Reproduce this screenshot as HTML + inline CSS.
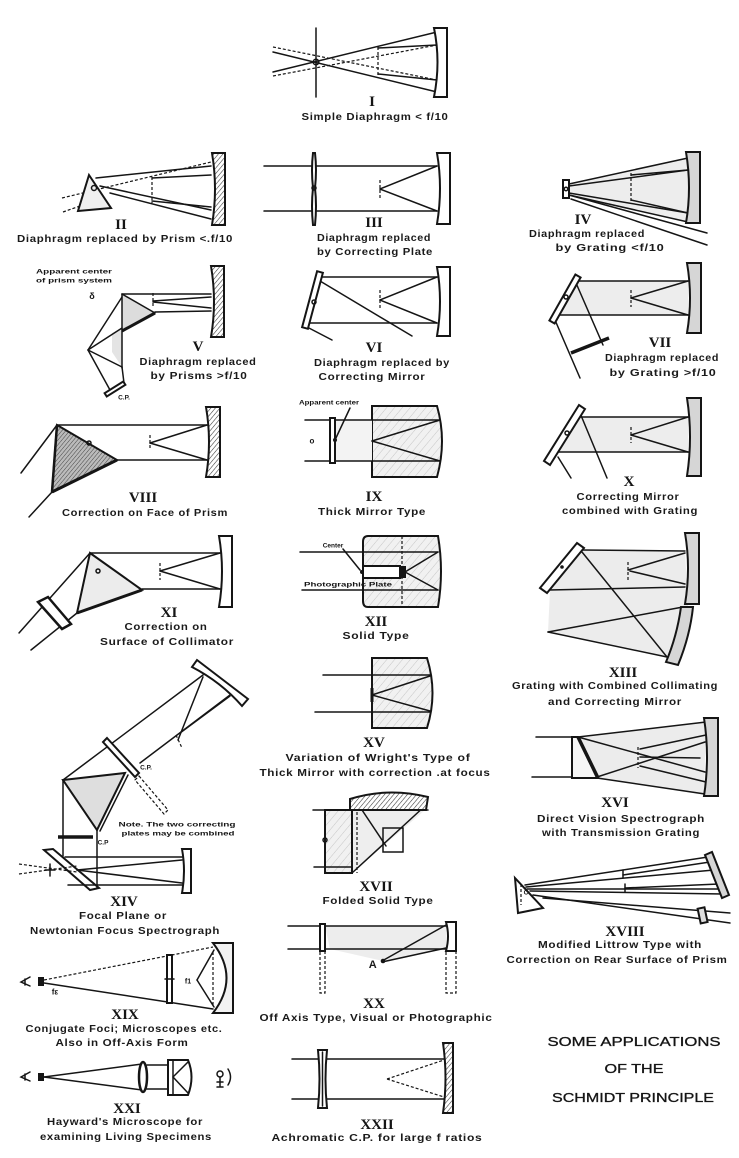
<!DOCTYPE html>
<html><head><meta charset="utf-8">
<style>
html,body{margin:0;padding:0;background:#fff;}
svg{display:block;}
.l{stroke:#151515;stroke-width:1.5;fill:none;stroke-linecap:round}
.th{stroke:#151515;stroke-width:2;}
.d{stroke:#151515;stroke-width:1.2;fill:none;stroke-dasharray:3 2}
.t{font-family:"Liberation Sans",sans-serif;font-size:10.5px;font-weight:bold;fill:#1a1a1a;letter-spacing:0.6px}
.s{font-family:"Liberation Sans",sans-serif;font-size:6.5px;font-weight:bold;fill:#151515}
.n{font-family:"Liberation Serif",serif;font-weight:bold;font-size:15px;fill:#151515}
.ti{font-family:"Liberation Sans",sans-serif;font-size:12.5px;fill:#151515;stroke:#151515;stroke-width:0.3}
</style></head><body>
<svg width="739" height="1158" viewBox="0 0 739 1158" xmlns="http://www.w3.org/2000/svg">
<defs>
<pattern id="h" width="3.5" height="3.5" patternUnits="userSpaceOnUse" patternTransform="rotate(40)"><rect width="3.5" height="3.5" fill="#fff"/><line x1="0" y1="0" x2="0" y2="3.5" stroke="#333" stroke-width="1.1"/></pattern>
<pattern id="hd" width="3" height="3" patternUnits="userSpaceOnUse" patternTransform="rotate(40)"><rect width="3" height="3" fill="#bbb"/><line x1="0" y1="0" x2="0" y2="3" stroke="#444" stroke-width="1"/></pattern>
<pattern id="hl" width="6" height="6" patternUnits="userSpaceOnUse" patternTransform="rotate(40)"><rect width="6" height="6" fill="#f1f1f1"/><line x1="0" y1="0" x2="0" y2="6" stroke="#bbb" stroke-width="0.8"/></pattern>
</defs>
<rect width="739" height="1158" fill="#fff"/>

<!-- I -->
<line class="l" x1="316" y1="28" x2="316" y2="97"/>
<line class="l" x1="273" y1="72" x2="437" y2="32"/>
<line class="l" x1="273" y1="52" x2="437" y2="92"/>
<line class="d" x1="273" y1="47" x2="437" y2="80"/>
<line class="d" x1="273" y1="76" x2="437" y2="45"/>
<line class="l" x1="437" y1="45" x2="378" y2="48"/>
<line class="l" x1="437" y1="80" x2="378" y2="74"/>
<line class="d" x1="378" y1="47" x2="378" y2="76"/>
<circle class="l" cx="316" cy="62" r="2.8" fill="#fff"/>
<path class="th" fill="#fff" d="M434,28 L447,28 L447,97 L434,97 Q441,62 434,28Z"/>
<text class="n" x="372" y="102" text-anchor="middle" dominant-baseline="central">I</text>
<text class="t" x="375" y="117" text-anchor="middle" dominant-baseline="central" textLength="147" lengthAdjust="spacingAndGlyphs">Simple Diaphragm &lt; f/10</text>

<!-- II -->
<line class="d" x1="62" y1="198" x2="211" y2="162"/>
<line class="d" x1="63" y1="212" x2="80" y2="206"/>
<line class="l" x1="96" y1="178" x2="211" y2="166"/>
<line class="l" x1="110" y1="193" x2="211" y2="219"/>
<line class="l" x1="100" y1="186" x2="211" y2="210"/>
<line class="l" x1="211" y1="175" x2="152" y2="178"/>
<line class="l" x1="211" y1="207" x2="152" y2="201"/>
<line class="d" x1="152" y1="177" x2="152" y2="203"/>
<polygon class="th" fill="#f0f0f0" points="89,175 78,211 111,208"/>
<circle class="l" cx="94" cy="188" r="2.5" fill="#fff"/>
<path class="th" fill="url(#h)" d="M212,153 L225,153 L225,225 L212,225 Q218,189 212,153Z"/>
<text class="n" x="121" y="225" text-anchor="middle" dominant-baseline="central">II</text>
<text class="t" x="125" y="239" text-anchor="middle" dominant-baseline="central" textLength="216" lengthAdjust="spacingAndGlyphs">Diaphragm replaced by Prism &lt;.f/10</text>

<!-- III -->
<line class="l" x1="264" y1="166" x2="437" y2="166"/>
<line class="l" x1="264" y1="211" x2="437" y2="211"/>
<path class="th" fill="#fff" d="M313,153 L315,153 Q317,170 315,188 Q317,206 315,225 L313,225 Q311,206 313,188 Q311,170 313,153Z"/>
<circle class="l" cx="314" cy="188" r="2" fill="#fff"/>
<line class="d" x1="380" y1="180" x2="380" y2="200"/>
<line class="l" x1="380" y1="189" x2="437" y2="166"/>
<line class="l" x1="380" y1="189" x2="437" y2="211"/>
<path class="th" fill="#fff" d="M437,153 L450,153 L450,224 L437,224 Q443,188 437,153Z"/>
<text class="n" x="374" y="223" text-anchor="middle" dominant-baseline="central">III</text>
<text class="t" x="374" y="238" text-anchor="middle" dominant-baseline="central" textLength="114" lengthAdjust="spacingAndGlyphs">Diaphragm replaced</text>
<text class="t" x="375" y="252" text-anchor="middle" dominant-baseline="central" textLength="116" lengthAdjust="spacingAndGlyphs">by Correcting Plate</text>

<!-- IV -->
<polygon fill="#ededed" points="569,184 688,158 688,222 569,195"/>
<line class="l" x1="569" y1="184" x2="688" y2="158"/>
<line class="l" x1="569" y1="195" x2="688" y2="222"/>
<line class="l" x1="569" y1="186" x2="688" y2="170"/>
<line class="l" x1="569" y1="193" x2="688" y2="213"/>
<line class="l" x1="688" y1="170" x2="631" y2="175"/>
<line class="l" x1="688" y1="213" x2="631" y2="200"/>
<line class="d" x1="631" y1="173" x2="631" y2="202"/>
<line class="l" x1="569" y1="195" x2="707" y2="233"/>
<line class="l" x1="571" y1="199" x2="707" y2="245"/>
<rect class="th" x="563" y="180" width="6" height="18" fill="#fff"/>
<circle class="l" cx="566" cy="189" r="1.8" fill="#fff"/>
<path class="th" fill="#d6d6d6" d="M686,152 L700,152 L700,223 L686,223 Q692,188 686,152Z"/>
<text class="n" x="583" y="220" text-anchor="middle" dominant-baseline="central">IV</text>
<text class="t" x="587" y="234" text-anchor="middle" dominant-baseline="central" textLength="116" lengthAdjust="spacingAndGlyphs">Diaphragm replaced</text>
<text class="t" x="610" y="248" text-anchor="middle" dominant-baseline="central" textLength="109" lengthAdjust="spacingAndGlyphs">by Grating &lt;f/10</text>

<!-- V -->
<text class="s" x="74" y="272" text-anchor="middle" dominant-baseline="central" textLength="76" lengthAdjust="spacingAndGlyphs">Apparent center</text>
<text class="s" x="74" y="281" text-anchor="middle" dominant-baseline="central" textLength="76" lengthAdjust="spacingAndGlyphs">of prism system</text>
<text class="s" x="92" y="296" text-anchor="middle" dominant-baseline="central" style="font-size:9px">δ</text>
<polygon fill="#dcdcdc" points="122,294 155,313 122,330"/>
<polygon fill="#e4e4e4" points="112,333 122,328 122,367 112,352"/>
<line class="l" x1="122" y1="294" x2="211" y2="294"/>
<line class="l" x1="155" y1="312" x2="211" y2="311"/>
<line class="l" x1="122" y1="294" x2="155" y2="313"/>
<line class="th" x1="155" y1="313" x2="122" y2="331" style="stroke-width:3"/>
<line class="l" x1="122" y1="294" x2="122" y2="368"/>
<line class="l" x1="122" y1="297" x2="88" y2="350"/>
<line class="l" x1="88" y1="350" x2="122" y2="328"/>
<line class="l" x1="88" y1="350" x2="122" y2="367"/>
<line class="l" x1="88" y1="350" x2="110" y2="390"/>
<line class="l" x1="122" y1="367" x2="124" y2="383"/>
<line class="d" x1="153" y1="293" x2="153" y2="308"/>
<line class="l" x1="211" y1="297" x2="153" y2="301"/>
<line class="l" x1="211" y1="308" x2="153" y2="302"/>
<rect class="th" x="104" y="387" width="22" height="4" fill="#fff" transform="rotate(-32 115 389)"/>
<text class="s" x="124" y="398" text-anchor="middle" dominant-baseline="central">C.P.</text>
<path class="th" fill="url(#h)" d="M211,266 L224,266 L224,337 L211,337 Q217,302 211,266Z"/>
<text class="n" x="198" y="347" text-anchor="middle" dominant-baseline="central">V</text>
<text class="t" x="198" y="362" text-anchor="middle" dominant-baseline="central" textLength="117" lengthAdjust="spacingAndGlyphs">Diaphragm replaced</text>
<text class="t" x="199" y="376" text-anchor="middle" dominant-baseline="central" textLength="97" lengthAdjust="spacingAndGlyphs">by Prisms &gt;f/10</text>

<!-- VI -->
<line class="l" x1="320" y1="277" x2="437" y2="277"/>
<line class="l" x1="308" y1="323" x2="437" y2="323"/>
<line class="l" x1="320" y1="281" x2="412" y2="336"/>
<line class="l" x1="307" y1="327" x2="332" y2="340"/>
<line class="d" x1="380" y1="290" x2="380" y2="310"/>
<line class="l" x1="380" y1="300" x2="437" y2="277"/>
<line class="l" x1="380" y1="300" x2="437" y2="323"/>
<polygon class="th" fill="#fff" points="322.9,272.8 307.9,328.8 302.1,327.2 317.1,271.2"/>
<circle class="l" cx="314" cy="302" r="2" fill="#fff"/>
<path class="th" fill="#fff" d="M437,267 L450,267 L450,336 L437,336 Q443,301 437,267Z"/>
<text class="n" x="374" y="348" text-anchor="middle" dominant-baseline="central">VI</text>
<text class="t" x="382" y="363" text-anchor="middle" dominant-baseline="central" textLength="136" lengthAdjust="spacingAndGlyphs">Diaphragm replaced by</text>
<text class="t" x="372" y="377" text-anchor="middle" dominant-baseline="central" textLength="107" lengthAdjust="spacingAndGlyphs">Correcting Mirror</text>

<!-- VII -->
<polygon fill="#ededed" points="576,281 688,281 688,315 557,315"/>
<line class="l" x1="576" y1="281" x2="688" y2="281"/>
<line class="l" x1="557" y1="315" x2="688" y2="315"/>
<line class="l" x1="631" y1="298" x2="688" y2="281"/>
<line class="l" x1="631" y1="298" x2="688" y2="315"/>
<line class="d" x1="631" y1="290" x2="631" y2="307"/>
<line class="l" x1="576" y1="283" x2="603" y2="345"/>
<line class="l" x1="555" y1="320" x2="580" y2="378"/>
<line class="th" x1="571" y1="353" x2="609" y2="338" style="stroke-width:3.5"/>
<polygon class="th" fill="#fff" points="580.6,277.5 554.6,323.5 549.4,320.5 575.4,274.5"/>
<circle class="l" cx="566" cy="297" r="2" fill="#fff"/>
<path class="th" fill="#d6d6d6" d="M687,263 L701,263 L701,333 L687,333 Q693,298 687,263Z"/>
<text class="n" x="660" y="343" text-anchor="middle" dominant-baseline="central">VII</text>
<text class="t" x="662" y="358" text-anchor="middle" dominant-baseline="central" textLength="114" lengthAdjust="spacingAndGlyphs">Diaphragm replaced</text>
<text class="t" x="663" y="373" text-anchor="middle" dominant-baseline="central" textLength="107" lengthAdjust="spacingAndGlyphs">by Grating &gt;f/10</text>

<!-- VIII -->
<line class="l" x1="21" y1="473" x2="57" y2="425"/>
<line class="l" x1="29" y1="517" x2="52" y2="492"/>
<line class="l" x1="57" y1="425" x2="207" y2="425"/>
<line class="l" x1="117" y1="460" x2="207" y2="460"/>
<line class="d" x1="150" y1="435" x2="150" y2="450"/>
<line class="l" x1="150" y1="443" x2="207" y2="425"/>
<line class="l" x1="150" y1="443" x2="207" y2="460"/>
<polygon class="th" fill="url(#hd)" points="57,425 117,460 52,492"/>
<line class="th" x1="117" y1="460" x2="52" y2="492" style="stroke-width:3"/>
<line class="th" x1="57" y1="425" x2="52" y2="492" style="stroke-width:2.5"/>
<circle class="l" cx="89" cy="443" r="2" fill="#fff"/>
<path class="th" fill="url(#h)" d="M206,407 L220,407 L220,477 L206,477 Q212,442 206,407Z"/>
<text class="n" x="143" y="498" text-anchor="middle" dominant-baseline="central">VIII</text>
<text class="t" x="145" y="513" text-anchor="middle" dominant-baseline="central" textLength="166" lengthAdjust="spacingAndGlyphs">Correction on Face of Prism</text>

<!-- IX -->
<path class="th" fill="url(#hl)" d="M372,406 L437,406 Q447,441 437,477 L372,477 Z"/>
<rect fill="#f3f3f3" x="335" y="420" width="37" height="41"/>
<line class="l" x1="305" y1="420" x2="440" y2="420"/>
<line class="l" x1="305" y1="461" x2="440" y2="461"/>
<line class="l" x1="372" y1="441" x2="440" y2="420"/>
<line class="l" x1="372" y1="441" x2="440" y2="461"/>
<rect class="th" x="330" y="418" width="5" height="45" fill="#fff"/>
<circle cx="335" cy="440" r="2" fill="#151515"/>
<line class="l" x1="335" y1="440" x2="350" y2="408"/>
<text class="s" x="329" y="403" text-anchor="middle" dominant-baseline="central" textLength="60" lengthAdjust="spacingAndGlyphs">Apparent center</text>
<text class="s" x="312" y="441" text-anchor="middle" dominant-baseline="central" style="font-size:8px">o</text>
<text class="n" x="374" y="497" text-anchor="middle" dominant-baseline="central">IX</text>
<text class="t" x="372" y="512" text-anchor="middle" dominant-baseline="central" textLength="108" lengthAdjust="spacingAndGlyphs">Thick Mirror Type</text>

<!-- X -->
<polygon fill="#ededed" points="579,417 688,417 688,452 553,452"/>
<line class="l" x1="579" y1="417" x2="688" y2="417"/>
<line class="l" x1="553" y1="452" x2="688" y2="452"/>
<line class="d" x1="631" y1="427" x2="631" y2="443"/>
<line class="l" x1="631" y1="435" x2="688" y2="417"/>
<line class="l" x1="631" y1="435" x2="688" y2="452"/>
<line class="l" x1="580" y1="413" x2="607" y2="478"/>
<line class="l" x1="558" y1="457" x2="571" y2="478"/>
<polygon class="th" fill="#fff" points="585,409 550,465 544,461 579,405"/>
<circle class="l" cx="567" cy="433" r="2" fill="#fff"/>
<path class="th" fill="#d6d6d6" d="M687,398 L701,398 L701,476 L687,476 Q693,437 687,398Z"/>
<text class="n" x="629" y="482" text-anchor="middle" dominant-baseline="central">X</text>
<text class="t" x="628" y="497" text-anchor="middle" dominant-baseline="central" textLength="103" lengthAdjust="spacingAndGlyphs">Correcting Mirror</text>
<text class="t" x="630" y="511" text-anchor="middle" dominant-baseline="central" textLength="136" lengthAdjust="spacingAndGlyphs">combined with Grating</text>

<!-- XI -->
<line class="l" x1="19" y1="633" x2="90" y2="553"/>
<line class="l" x1="31" y1="650" x2="77" y2="613"/>
<line class="l" x1="90" y1="553" x2="220" y2="553"/>
<line class="l" x1="142" y1="589" x2="220" y2="589"/>
<line class="d" x1="160" y1="563" x2="160" y2="580"/>
<line class="l" x1="160" y1="571" x2="220" y2="553"/>
<line class="l" x1="160" y1="571" x2="220" y2="589"/>
<polygon class="th" fill="#ececec" points="90,553 142,590 77,613"/>
<line class="th" x1="142" y1="590" x2="77" y2="613" style="stroke-width:3"/>
<circle class="l" cx="98" cy="571" r="2" fill="#fff"/>
<polygon class="th" fill="#fff" points="38,602 48,597 71,624 62,629" style="stroke-width:2.5"/>
<path class="th" fill="#fff" d="M219,536 L232,536 L232,607 L219,607 Q225,571 219,536Z"/>
<text class="n" x="169" y="613" text-anchor="middle" dominant-baseline="central">XI</text>
<text class="t" x="166" y="627" text-anchor="middle" dominant-baseline="central" textLength="83" lengthAdjust="spacingAndGlyphs">Correction on</text>
<text class="t" x="167" y="642" text-anchor="middle" dominant-baseline="central" textLength="134" lengthAdjust="spacingAndGlyphs">Surface of Collimator</text>

<!-- XII -->
<path class="th" fill="url(#hl)" d="M368,536 L438,536 Q444,571 438,607 L368,607 Q363,607 363,601 L363,542 Q363,536 368,536Z"/>
<line class="d" x1="402" y1="536" x2="402" y2="607"/>
<line class="l" x1="300" y1="552" x2="438" y2="552"/>
<line class="l" x1="302" y1="590" x2="438" y2="590"/>
<line class="l" x1="405" y1="572" x2="438" y2="552"/>
<line class="l" x1="405" y1="572" x2="438" y2="590"/>
<rect class="th" x="363" y="566" width="37" height="12" fill="#fff"/>
<rect x="400" y="566" width="6" height="12" fill="#151515"/>
<circle cx="362" cy="572" r="2" fill="#151515"/>
<line class="l" x1="343" y1="549" x2="360" y2="570"/>
<text class="s" x="333" y="546" text-anchor="middle" dominant-baseline="central">Center</text>
<text class="s" x="348" y="585" text-anchor="middle" dominant-baseline="central" textLength="88" lengthAdjust="spacingAndGlyphs">Photographic Plate</text>
<text class="n" x="376" y="622" text-anchor="middle" dominant-baseline="central">XII</text>
<text class="t" x="376" y="636" text-anchor="middle" dominant-baseline="central" textLength="67" lengthAdjust="spacingAndGlyphs">Solid Type</text>

<!-- XIII -->
<polygon fill="#ececec" points="583,550 685,551 688,606 667,657 548,632 550,590"/>
<line class="l" x1="582" y1="550" x2="685" y2="551"/>
<line class="l" x1="549" y1="590" x2="685" y2="587"/>
<line class="l" x1="582" y1="552" x2="667" y2="657"/>
<line class="l" x1="548" y1="632" x2="683" y2="607"/>
<line class="l" x1="548" y1="632" x2="667" y2="657"/>
<line class="l" x1="685" y1="553" x2="628" y2="570"/>
<line class="l" x1="685" y1="584" x2="630" y2="571"/>
<line class="d" x1="628" y1="562" x2="628" y2="580"/>
<polygon class="th" fill="#fff" points="540,588 577,543 584,548 547,593"/>
<circle cx="562" cy="567" r="1.8" fill="#151515"/>
<path class="th" fill="#d6d6d6" d="M685,533 L699,533 L699,604 L685,604 Q691,568 685,533Z"/>
<path class="th" fill="#d6d6d6" d="M681,607 L693,607 Q690,636 678,665 L666,662 Q677,636 681,607Z"/>
<text class="n" x="623" y="673" text-anchor="middle" dominant-baseline="central">XIII</text>
<text class="t" x="615" y="686" text-anchor="middle" dominant-baseline="central" textLength="206" lengthAdjust="spacingAndGlyphs">Grating with Combined Collimating</text>
<text class="t" x="615" y="702" text-anchor="middle" dominant-baseline="central" textLength="134" lengthAdjust="spacingAndGlyphs">and Correcting Mirror</text>

<!-- XIV -->
<line class="l" x1="63" y1="780" x2="203" y2="675"/>
<line class="l" x1="140" y1="763" x2="230" y2="695"/>
<line class="l" x1="203" y1="677" x2="178" y2="740"/>
<line class="l" x1="230" y1="696" x2="180" y2="733"/>
<line class="d" x1="176" y1="735" x2="182" y2="748"/>
<path class="th" fill="#fff" d="M197,660 L248,699 L242,706 Q221,682 192,667 Z"/>
<polygon class="th" fill="#fff" points="107,738 139,773 135,777 103,742"/>
<polygon class="d" points="139,776 168,810 164,814 135,780"/>
<text class="s" x="146" y="768" text-anchor="middle" dominant-baseline="central">C.P.</text>
<polygon class="th" fill="#dedede" points="63,780 125,773 97,830"/>
<line class="l" x1="128" y1="775" x2="100" y2="831"/>
<line class="l" x1="63" y1="780" x2="63" y2="856"/>
<line class="l" x1="97" y1="830" x2="97" y2="888"/>
<line class="th" x1="58" y1="837" x2="93" y2="837" style="stroke-width:3.5"/>
<text class="s" x="103" y="843" text-anchor="middle" dominant-baseline="central">C.P</text>
<text class="s" x="177" y="825" text-anchor="middle" dominant-baseline="central" textLength="117" lengthAdjust="spacingAndGlyphs">Note. The two correcting</text>
<text class="s" x="178" y="834" text-anchor="middle" dominant-baseline="central" textLength="113" lengthAdjust="spacingAndGlyphs">plates may be combined</text>
<line class="l" x1="65" y1="857" x2="182" y2="857"/>
<line class="l" x1="68" y1="885" x2="182" y2="885"/>
<line class="l" x1="77" y1="870" x2="182" y2="860"/>
<line class="l" x1="77" y1="870" x2="182" y2="883"/>
<line class="d" x1="19" y1="864" x2="77" y2="872"/>
<line class="d" x1="19" y1="874" x2="77" y2="866"/>
<line class="l" x1="50" y1="864" x2="50" y2="876"/>
<line class="l" x1="45" y1="870" x2="55" y2="870"/>
<polygon class="th" fill="none" points="44,850 53,849 99,888 90,890"/>
<path class="th" fill="#fff" d="M182,849 L191,849 L191,893 L182,893 Q186,871 182,849Z"/>
<text class="n" x="124" y="902" text-anchor="middle" dominant-baseline="central">XIV</text>
<text class="t" x="123" y="916" text-anchor="middle" dominant-baseline="central" textLength="88" lengthAdjust="spacingAndGlyphs">Focal Plane or</text>
<text class="t" x="125" y="931" text-anchor="middle" dominant-baseline="central" textLength="190" lengthAdjust="spacingAndGlyphs">Newtonian Focus Spectrograph</text>

<!-- XV -->
<path class="th" fill="url(#hl)" d="M372,658 L427,658 Q438,693 427,728 L372,728 Z"/>
<line class="l" x1="323" y1="675" x2="430" y2="675"/>
<line class="l" x1="315" y1="712" x2="430" y2="712"/>
<line class="l" x1="372" y1="695" x2="430" y2="676"/>
<line class="l" x1="372" y1="695" x2="430" y2="711"/>
<line class="th" x1="372" y1="688" x2="372" y2="702" style="stroke-width:3"/>
<text class="n" x="374" y="743" text-anchor="middle" dominant-baseline="central">XV</text>
<text class="t" x="378" y="758" text-anchor="middle" dominant-baseline="central" textLength="185" lengthAdjust="spacingAndGlyphs">Variation of Wright's Type of</text>
<text class="t" x="375" y="773" text-anchor="middle" dominant-baseline="central" textLength="231" lengthAdjust="spacingAndGlyphs">Thick Mirror with correction .at focus</text>

<!-- XVI -->
<polygon fill="#ececec" points="578,737 706,722 704,795 597,778"/>
<line class="l" x1="536" y1="737" x2="578" y2="737"/>
<line class="l" x1="532" y1="777" x2="572" y2="777"/>
<line class="l" x1="578" y1="737" x2="706" y2="722"/>
<line class="l" x1="597" y1="778" x2="705" y2="794"/>
<line class="l" x1="578" y1="737" x2="705" y2="772"/>
<line class="l" x1="597" y1="777" x2="705" y2="742"/>
<line class="l" x1="706" y1="735" x2="640" y2="749"/>
<line class="l" x1="706" y1="782" x2="640" y2="766"/>
<line class="l" x1="640" y1="757" x2="700" y2="758"/>
<line class="d" x1="638" y1="747" x2="638" y2="768"/>
<polygon class="th" fill="#f6f6f6" points="572,737 578,737 597,778 572,778"/>
<line class="th" x1="578" y1="737" x2="598" y2="778" style="stroke-width:3.5"/>
<path class="th" fill="#d6d6d6" d="M704,718 L718,718 L718,796 L704,796 Q710,757 704,718Z"/>
<text class="n" x="615" y="803" text-anchor="middle" dominant-baseline="central">XVI</text>
<text class="t" x="621" y="819" text-anchor="middle" dominant-baseline="central" textLength="168" lengthAdjust="spacingAndGlyphs">Direct Vision Spectrograph</text>
<text class="t" x="621" y="833" text-anchor="middle" dominant-baseline="central" textLength="158" lengthAdjust="spacingAndGlyphs">with Transmission Grating</text>

<!-- XVII -->
<polygon fill="#eeeeee" points="352,810 425,810 352,873"/>
<rect class="th" x="325" y="810" width="27" height="63" fill="url(#hl)"/>
<line class="d" x1="357" y1="797" x2="357" y2="873"/>
<line class="l" x1="352" y1="873" x2="426" y2="805"/>
<line class="l" x1="313" y1="810" x2="428" y2="810"/>
<line class="l" x1="314" y1="867" x2="352" y2="867"/>
<line class="l" x1="362" y1="810" x2="386" y2="846"/>
<path class="th" fill="url(#h)" d="M350,810 L350,799 Q388,787 428,797 L426,810 Z"/>
<rect class="l" x="383" y="828" width="20" height="24" fill="url(#h)"/>
<circle class="l" cx="325" cy="840" r="2" fill="#fff"/>
<text class="n" x="376" y="887" text-anchor="middle" dominant-baseline="central">XVII</text>
<text class="t" x="378" y="901" text-anchor="middle" dominant-baseline="central" textLength="111" lengthAdjust="spacingAndGlyphs">Folded Solid Type</text>

<!-- XVIII -->
<line class="l" x1="525" y1="885" x2="708" y2="857"/>
<line class="l" x1="526" y1="887" x2="714" y2="870"/>
<line class="l" x1="527" y1="889" x2="721" y2="889"/>
<line class="l" x1="530" y1="891" x2="723" y2="894"/>
<line class="l" x1="710" y1="862" x2="623" y2="875"/>
<line class="l" x1="719" y1="884" x2="625" y2="888"/>
<line class="l" x1="623" y1="870" x2="623" y2="878"/>
<line class="l" x1="625" y1="884" x2="625" y2="892"/>
<line class="l" x1="533" y1="895" x2="730" y2="923"/>
<line class="l" x1="543" y1="898" x2="730" y2="913"/>
<polygon class="th" fill="#fff" points="515,878 543,908 518,913"/>
<line class="d" x1="521" y1="884" x2="521" y2="905"/>
<text class="s" x="526" y="893" text-anchor="middle" dominant-baseline="central">C</text>
<rect class="th" x="699" y="908" width="7" height="15" fill="#ddd" transform="rotate(-12 702 915)"/>
<polygon class="th" fill="#d6d6d6" points="705,855 712,852 729,895 722,898"/>
<text class="n" x="625" y="932" text-anchor="middle" dominant-baseline="central">XVIII</text>
<text class="t" x="620" y="945" text-anchor="middle" dominant-baseline="central" textLength="164" lengthAdjust="spacingAndGlyphs">Modified Littrow Type with</text>
<text class="t" x="617" y="960" text-anchor="middle" dominant-baseline="central" textLength="221" lengthAdjust="spacingAndGlyphs">Correction on Rear Surface of Prism</text>

<!-- XIX -->
<path class="l" d="M30,977 L21,982 L30,986 M25,979 L25,985"/>
<rect x="38" y="977" width="6" height="9" fill="#151515"/>
<text class="s" x="55" y="992" text-anchor="middle" dominant-baseline="central" style="font-size:8px">fε</text>
<line class="d" x1="44" y1="980" x2="213" y2="947"/>
<line class="l" x1="44" y1="983" x2="213" y2="1009"/>
<rect class="th" x="167" y="955" width="5" height="48" fill="#fff"/>
<line class="l" x1="165" y1="979" x2="174" y2="979"/>
<path class="th" fill="#f2f2f2" d="M213,943 L233,943 L233,1013 L213,1013 Q240,978 213,943Z"/>
<line class="d" x1="213" y1="952" x2="213" y2="1005"/>
<line class="l" x1="197" y1="980" x2="214" y2="950"/>
<line class="l" x1="197" y1="980" x2="214" y2="1007"/>
<text class="s" x="188" y="982" text-anchor="middle" dominant-baseline="central" style="font-size:7px">f1</text>
<text class="n" x="125" y="1015" text-anchor="middle" dominant-baseline="central">XIX</text>
<text class="t" x="124" y="1029" text-anchor="middle" dominant-baseline="central" textLength="197" lengthAdjust="spacingAndGlyphs">Conjugate Foci; Microscopes etc.</text>
<text class="t" x="122" y="1043" text-anchor="middle" dominant-baseline="central" textLength="133" lengthAdjust="spacingAndGlyphs">Also in Off-Axis Form</text>

<!-- XX -->
<polygon fill="#ededed" points="325,926 446,926 446,949 383,961 330,949"/>
<line class="l" x1="288" y1="926" x2="446" y2="926"/>
<line class="l" x1="288" y1="949" x2="446" y2="949"/>
<line class="l" x1="382" y1="961" x2="446" y2="925"/>
<line class="l" x1="382" y1="962" x2="446" y2="948"/>
<circle cx="383" cy="961" r="2.3" fill="#151515"/>
<text class="t" x="373" y="965" text-anchor="middle" dominant-baseline="central" style="font-size:11px">A</text>
<rect class="th" x="320" y="924" width="5" height="27" fill="#fff"/>
<rect class="d" x="320" y="951" width="5" height="42"/>
<path class="th" fill="#fff" d="M446,922 L456,922 L456,951 L446,951 Q450,936 446,922Z"/>
<rect class="d" x="446" y="951" width="10" height="42"/>
<text class="n" x="374" y="1004" text-anchor="middle" dominant-baseline="central">XX</text>
<text class="t" x="376" y="1018" text-anchor="middle" dominant-baseline="central" textLength="233" lengthAdjust="spacingAndGlyphs">Off Axis Type, Visual or Photographic</text>

<!-- XXI -->
<path class="l" d="M30,1072 L21,1077 L30,1081 M25,1074 L25,1080"/>
<rect x="38" y="1073" width="6" height="8" fill="#151515"/>
<line class="l" x1="44" y1="1077" x2="142" y2="1064"/>
<line class="l" x1="44" y1="1077" x2="142" y2="1090"/>
<line class="l" x1="147" y1="1065" x2="168" y2="1065"/>
<line class="l" x1="147" y1="1089" x2="168" y2="1089"/>
<ellipse class="th" cx="143" cy="1077" rx="4" ry="15" fill="#fff" style="stroke-width:2.5"/>
<path class="th" fill="#fff" d="M168,1060 L188,1060 Q195,1077 188,1095 L168,1095 Z"/>
<line class="l" x1="173" y1="1060" x2="173" y2="1095"/>
<line class="l" x1="173" y1="1077" x2="188" y2="1062"/>
<line class="l" x1="173" y1="1077" x2="188" y2="1093"/>
<circle class="l" cx="220" cy="1074" r="3" fill="#fff"/>
<path class="l" d="M217,1082 L223,1082 M220,1077 L220,1086 M217,1087 L223,1087"/>
<path class="l" d="M228,1069 Q233,1077 228,1085"/>
<text class="n" x="127" y="1109" text-anchor="middle" dominant-baseline="central">XXI</text>
<text class="t" x="125" y="1122" text-anchor="middle" dominant-baseline="central" textLength="156" lengthAdjust="spacingAndGlyphs">Hayward's Microscope for</text>
<text class="t" x="126" y="1137" text-anchor="middle" dominant-baseline="central" textLength="172" lengthAdjust="spacingAndGlyphs">examining Living Specimens</text>

<!-- XXII -->
<line class="l" x1="292" y1="1059" x2="444" y2="1059"/>
<line class="l" x1="292" y1="1099" x2="444" y2="1099"/>
<line class="d" x1="387" y1="1079" x2="444" y2="1060"/>
<line class="d" x1="387" y1="1079" x2="444" y2="1097"/>
<path class="th" fill="#fff" d="M318,1050 L327,1050 Q324,1079 327,1108 L318,1108 Q321,1079 318,1050Z"/>
<line class="l" x1="322.5" y1="1052" x2="322.5" y2="1106"/>
<path class="th" fill="url(#h)" d="M443,1043 L453,1043 L453,1113 L443,1113 Q448,1078 443,1043Z"/>
<text class="n" x="377" y="1125" text-anchor="middle" dominant-baseline="central">XXII</text>
<text class="t" x="377" y="1138" text-anchor="middle" dominant-baseline="central" textLength="211" lengthAdjust="spacingAndGlyphs">Achromatic C.P. for large f ratios</text>

<!-- Title -->
<text class="ti" x="634" y="1042" text-anchor="middle" dominant-baseline="central" textLength="173" lengthAdjust="spacingAndGlyphs">SOME APPLICATIONS</text>
<text class="ti" x="634" y="1069" text-anchor="middle" dominant-baseline="central" textLength="59" lengthAdjust="spacingAndGlyphs">OF THE</text>
<text class="ti" x="633" y="1098" text-anchor="middle" dominant-baseline="central" textLength="162" lengthAdjust="spacingAndGlyphs">SCHMIDT PRINCIPLE</text>
</svg>
</body></html>
